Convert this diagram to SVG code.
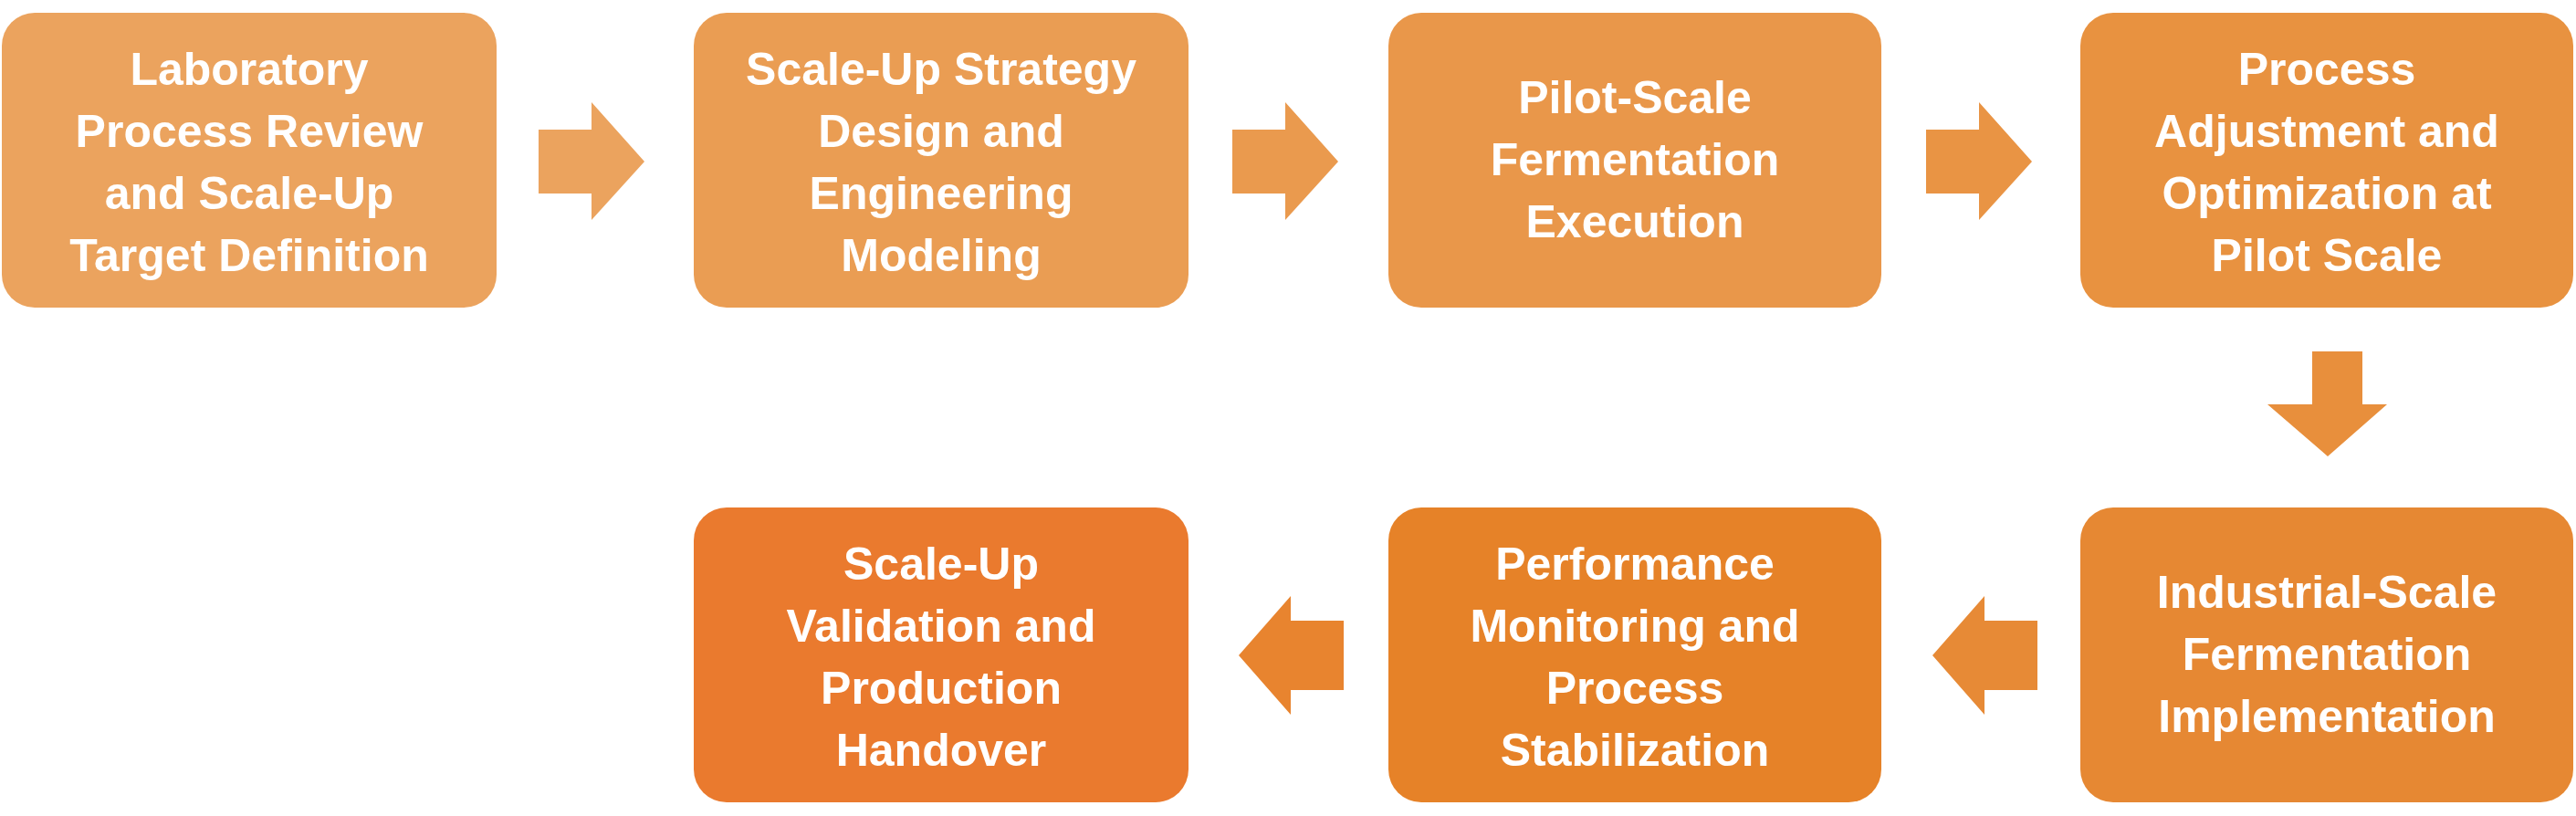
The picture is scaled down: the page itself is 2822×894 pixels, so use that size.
<svg xmlns="http://www.w3.org/2000/svg" width="2822" height="894" viewBox="0 0 2822 894">
<style>
text{font-family:"Liberation Sans",Arial,sans-serif;font-weight:bold;font-size:50px;fill:#fff;text-anchor:middle}
</style>
<rect width="2822" height="894" fill="#fff"/>
<g id="connectors">
<polygon points="590,142 648,142 648,112 706,177 648,241 648,212 590,212" fill="#EBA35E"/>
<polygon points="1350,142 1408,142 1408,112 1466,177 1408,241 1408,212 1350,212" fill="#EA9A4E"/>
<polygon points="2110,142 2168,142 2168,112 2226,177 2168,241 2168,212 2110,212" fill="#E99444"/>
<polygon points="2533,385 2588,385 2588,443 2615,443 2550,500 2484,443 2533,443" fill="#E88F3C"/>
<polygon points="2232,680 2174,680 2174,653 2117,718 2174,783 2174,756 2232,756" fill="#E78A36"/>
<polygon points="1472,680 1414,680 1414,653 1357,718 1414,783 1414,756 1472,756" fill="#E8842F"/>
</g>
<g id="n1"><rect x="2" y="14" width="542" height="323" rx="36" fill="#EBA35E"/>
<text x="273" y="93">Laboratory</text><text x="273" y="161">Process Review</text><text x="273" y="229">and Scale-Up</text><text x="273" y="297">Target Definition</text></g>
<g id="n2"><rect x="760" y="14" width="542" height="323" rx="36" fill="#EA9D53"/>
<text x="1031" y="93">Scale-Up Strategy</text><text x="1031" y="161">Design and</text><text x="1031" y="229">Engineering</text><text x="1031" y="297">Modeling</text></g>
<g id="n3"><rect x="1521" y="14" width="540" height="323" rx="36" fill="#E9974A"/>
<text x="1791" y="124">Pilot-Scale</text><text x="1791" y="192">Fermentation</text><text x="1791" y="260">Execution</text></g>
<g id="n4"><rect x="2279" y="14" width="540" height="323" rx="36" fill="#E89240"/>
<text x="2549" y="93">Process</text><text x="2549" y="161">Adjustment and</text><text x="2549" y="229">Optimization at</text><text x="2549" y="297">Pilot Scale</text></g>
<g id="n5"><rect x="2279" y="556" width="540" height="323" rx="36" fill="#E68833"/>
<text x="2549" y="666">Industrial-Scale</text><text x="2549" y="734">Fermentation</text><text x="2549" y="802">Implementation</text></g>
<g id="n6"><rect x="1521" y="556" width="540" height="323" rx="36" fill="#E68228"/>
<text x="1791" y="635">Performance</text><text x="1791" y="703">Monitoring and</text><text x="1791" y="771">Process</text><text x="1791" y="839">Stabilization</text></g>
<g id="n7"><rect x="760" y="556" width="542" height="323" rx="36" fill="#EA7A2E"/>
<text x="1031" y="635">Scale-Up</text><text x="1031" y="703">Validation and</text><text x="1031" y="771">Production</text><text x="1031" y="839">Handover</text></g>
</svg>
